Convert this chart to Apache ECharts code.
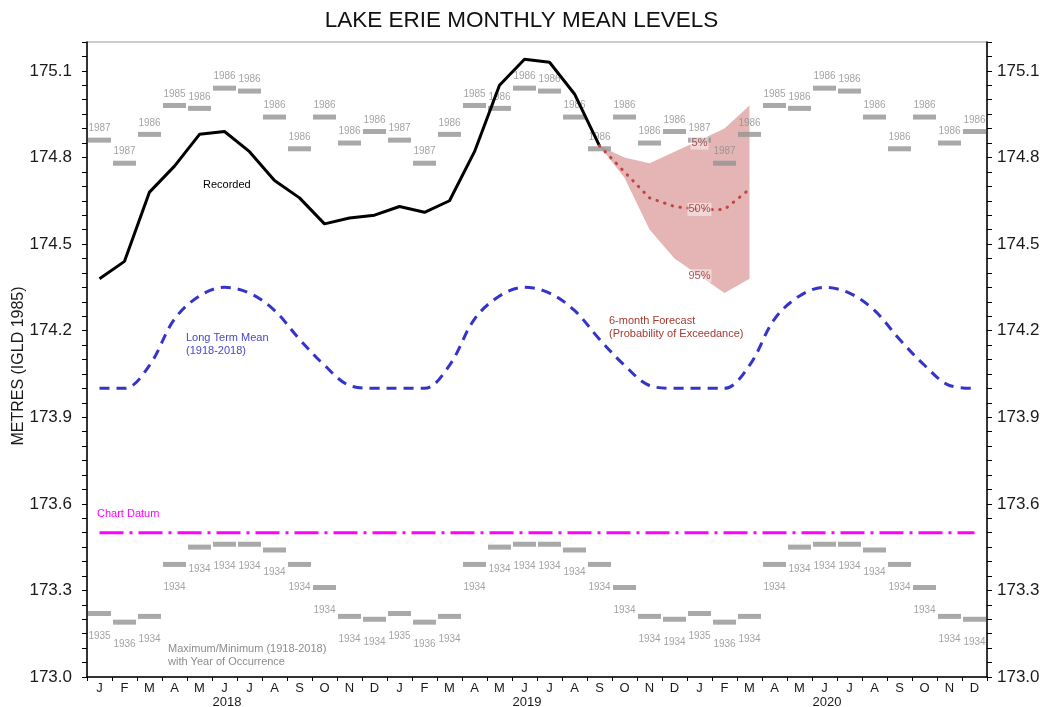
<!DOCTYPE html>
<html><head><meta charset="utf-8">
<script src="https://cdn.jsdelivr.net/npm/echarts@6/dist/echarts.min.js"></script>
<style>html,body{margin:0;padding:0;background:#fff}#c{width:1043px;height:707px}</style>
</head><body><div id="c"></div>
<script>
// ---------- data ----------
const monthLetters = ['J','F','M','A','M','J','J','A','S','O','N','D'];
const yearLabels = ['2018','2019','2020'];
// recorded monthly means, Jan 2018 .. Sep 2019
const recorded = [174.38,174.44,174.68,174.77,174.88,174.89,174.82,174.72,174.66,174.57,174.59,174.60,
                  174.63,174.61,174.65,174.82,175.05,175.14,175.13,175.02,174.84];
// long term mean Jan..Dec (1918-2018)
const longTermMean = [174.00,174.00,174.08,174.24,174.32,174.35,174.33,174.27,174.17,174.08,174.01,174.00];
// period-of-record maximum / minimum, Jan..Dec, with year of occurrence
const maxLevel = [174.86,174.78,174.88,174.98,174.97,175.04,175.03,174.94,174.83,174.94,174.85,174.89];
const maxYear  = ['1987','1987','1986','1985','1986','1986','1986','1986','1986','1986','1986','1986'];
const minLevel = [173.22,173.19,173.21,173.39,173.45,173.46,173.46,173.44,173.39,173.31,173.21,173.20];
const minYear  = ['1935','1936','1934','1934','1934','1934','1934','1934','1934','1934','1934','1934'];
const chartDatum = 173.5;
// 6-month forecast, Sep 2019 .. Mar 2020 (probability of exceedance)
const forecastStartIndex = 20;
const forecast5  = [174.84,174.80,174.78,174.82,174.86,174.90,174.98];
const forecast50 = [174.84,174.75,174.66,174.63,174.62,174.62,174.69];
const forecast95 = [174.84,174.73,174.55,174.45,174.39,174.33,174.38];
const probLabels = ['5%','50%','95%'];
const probLabelIndex = 4; // Jan 2020 within forecast

// ---------- build ----------
const nYears = yearLabels.length;
const categories = [];
for (let y = 0; y < nYears; y++) monthLetters.forEach(m => categories.push(m));
const N = categories.length;
const rep = arr => { const o = []; for (let y = 0; y < nYears; y++) arr.forEach(v => o.push(v)); return o; };
const pad = (arr, start) => { const o = new Array(N).fill('-'); arr.forEach((v, i) => { o[start + i] = v; }); return o; };

const ltmData = rep(longTermMean);
const maxData = rep(maxLevel);
const minData = rep(minLevel);
const datumData = new Array(N).fill(chartDatum);
const bandLow = pad(forecast95, forecastStartIndex);
const bandSpan = pad(forecast5.map((v, i) => +(v - forecast95[i]).toFixed(3)), forecastStartIndex);
const medData = pad(forecast50, forecastStartIndex);
const li = forecastStartIndex + probLabelIndex;
const probPoints = [
  {value: [li, forecast5[probLabelIndex]], name: probLabels[0], label: {offset: [0, 3]}},
  {value: [li, forecast50[probLabelIndex]], name: probLabels[1]},
  {value: [li, forecast95[probLabelIndex]], name: probLabels[2]}
];

const FONT = 'Liberation Sans, Arial, sans-serif';
const chart = echarts.init(document.getElementById('c'), null, {renderer: 'canvas'});

const yAxisBase = {
  type: 'value', min: 173.0, max: 175.2, interval: 0.1,
  axisLine: {show: true, lineStyle: {color: '#000', width: 1.5}},
  axisTick: {show: true, inside: false, length: 5, lineStyle: {color: '#000', width: 1}},
  minorTick: {show: true, splitNumber: 2, length: 5, lineStyle: {color: '#000', width: 1}},
  splitLine: {show: false},
  axisLabel: {
    fontSize: 17, color: '#1a1a1a', fontFamily: FONT,
    formatter: v => (Math.round((v - 173) * 10) % 3 === 0 ? v.toFixed(1) : '')
  }
};

const option = {
  animation: false,
  backgroundColor: '#fff',
  textStyle: {fontFamily: FONT},
  title: {
    text: 'LAKE ERIE MONTHLY MEAN LEVELS', left: 'center', top: 4,
    textStyle: {fontSize: 22.5, fontWeight: 'normal', color: '#111', fontFamily: FONT}
  },
  grid: {left: 87, right: 56, top: 42, bottom: 30, show: true, borderColor: '#9a9a9a', borderWidth: 1,
    containLabel: false, outerBoundsMode: 'none'},
  xAxis: [
    {
      type: 'category', data: categories, boundaryGap: true, position: 'bottom',
      axisLine: {lineStyle: {color: '#000', width: 1.5}},
      axisTick: {show: true, inside: false, length: 4, lineStyle: {color: '#000'}},
      axisLabel: {interval: 0, fontSize: 13, color: '#1a1a1a', margin: 5, fontFamily: FONT},
      splitLine: {show: false}
    },
    {
      type: 'category', data: yearLabels, position: 'bottom', offset: 14,
      axisLine: {show: false}, axisTick: {show: false},
      axisLabel: {interval: 0, fontSize: 13, color: '#1a1a1a', margin: 5, padding: [0, 20, 0, 0], fontFamily: FONT},
      splitLine: {show: false}
    }
  ],
  yAxis: [
    Object.assign({}, yAxisBase, {position: 'left', axisLabel: Object.assign({}, yAxisBase.axisLabel, {margin: 15})}),
    Object.assign({}, yAxisBase, {position: 'right', axisLabel: Object.assign({}, yAxisBase.axisLabel, {margin: 10})})
  ],
  graphic: [
    {type: 'text', x: 19, y: 366, rotation: Math.PI / 2,
      style: {text: 'METRES (IGLD 1985)', font: '16px ' + FONT, fill: '#1a1a1a', align: 'center', verticalAlign: 'middle'}},
    {type: 'text', x: 203, y: 179,
      style: {text: 'Recorded', font: '11px ' + FONT, fill: '#000', verticalAlign: 'top'}},
    {type: 'text', x: 186, y: 331,
      style: {text: 'Long Term Mean\n(1918-2018)', font: '11px ' + FONT, fill: '#4747c8', lineHeight: 13, verticalAlign: 'top'}},
    {type: 'text', x: 609, y: 314,
      style: {text: '6-month Forecast\n(Probability of Exceedance)', font: '11px ' + FONT, fill: '#a23a30', lineHeight: 13, verticalAlign: 'top'}},
    {type: 'text', x: 168, y: 642,
      style: {text: 'Maximum/Minimum (1918-2018)\nwith Year of Occurrence', font: '11px ' + FONT, fill: '#8c8c8c', lineHeight: 13, verticalAlign: 'top'}},
    {type: 'text', x: 97, y: 508,
      style: {text: 'Chart Datum', font: '11px ' + FONT, fill: '#ff00ff', verticalAlign: 'top'}}
  ],
  series: [
    {
      name: 'band low', type: 'line', stack: 'forecast', data: bandLow, z: 1,
      symbol: 'none', lineStyle: {width: 0, opacity: 0}, silent: true
    },
    {
      name: 'band', type: 'line', stack: 'forecast', data: bandSpan, z: 1,
      symbol: 'none', lineStyle: {width: 0, opacity: 0},
      areaStyle: {color: '#e5b5b5', opacity: 1}, silent: true
    },
    {
      name: 'Long Term Mean', type: 'line', data: ltmData, z: 2, smooth: 0.35,
      symbol: 'none', lineStyle: {color: '#3434c8', width: 3, type: [10, 7]}
    },
    {
      name: 'Chart Datum', type: 'line', data: datumData, z: 2,
      symbol: 'none', lineStyle: {color: '#ff00ff', width: 3, type: [24, 6, 3, 6]}
    },
    {
      name: 'Maximum', type: 'scatter', data: maxData, z: 3,
      symbol: 'rect', symbolSize: [23, 5], itemStyle: {color: '#939393'},
      label: {show: true, position: 'top', distance: 4, fontSize: 10, color: '#8c8c8c', fontFamily: FONT,
        formatter: p => maxYear[p.dataIndex % 12]}
    },
    {
      name: 'Minimum', type: 'scatter', data: minData, z: 3,
      symbol: 'rect', symbolSize: [23, 5], itemStyle: {color: '#939393'},
      label: {show: true, position: 'bottom', distance: 15, fontSize: 10, color: '#8c8c8c', fontFamily: FONT,
        formatter: p => minYear[p.dataIndex % 12]}
    },
    {
      name: 'Recorded', type: 'line', data: recorded, z: 4,
      symbol: 'none', lineStyle: {color: '#000', width: 3}
    },
    {
      name: 'Forecast 50%', type: 'line', data: medData, z: 4,
      symbol: 'none', lineStyle: {color: '#c04444', width: 3, type: [0.5, 7.5], cap: 'round'}
    },
    {
      name: 'prob labels', type: 'scatter', data: probPoints, z: 5,
      symbolSize: 1, itemStyle: {color: 'rgba(0,0,0,0)'}, silent: true,
      label: {show: true, position: 'inside', formatter: p => p.name, fontSize: 11, color: '#9a2a2a',
        backgroundColor: 'rgba(255,255,255,0.6)', padding: [1, 1], fontFamily: FONT}
    }
  ]
};
chart.setOption(option);
</script>
</body></html>
